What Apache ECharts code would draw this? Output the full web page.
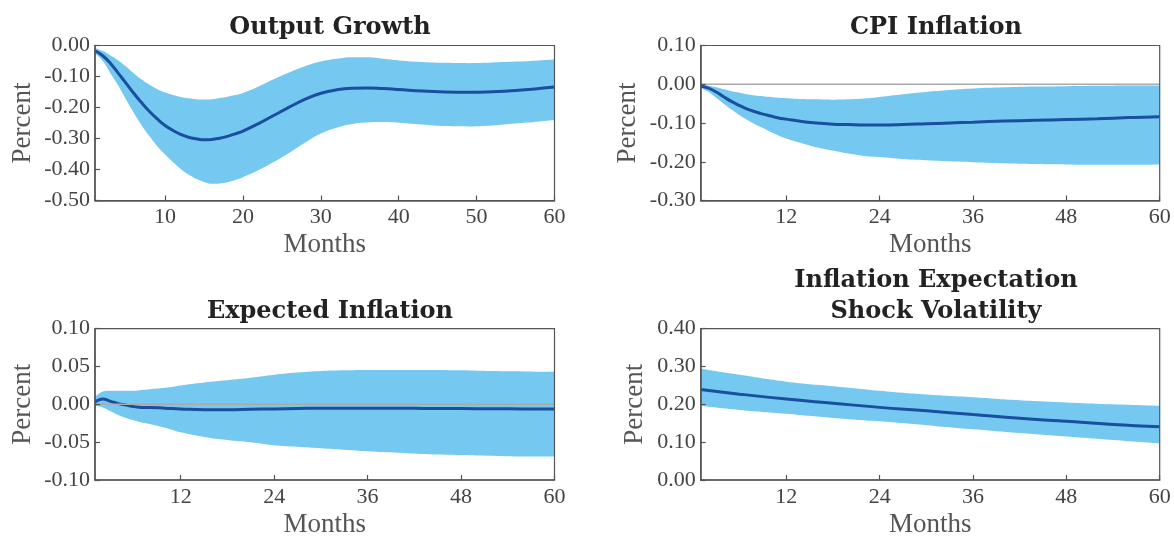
<!DOCTYPE html>
<html>
<head>
<meta charset="utf-8">
<script src="https://cdn.jsdelivr.net/npm/echarts@6/dist/echarts.min.js"></script>
<style>
html,body{margin:0;padding:0;background:#fff;}
#chart{width:1174px;height:539px;}
</style>
</head>
<body>
<div id="chart"></div>
<script>
// ---------- DATA ----------
const titles = ['Output Growth', 'CPI Inflation', 'Expected Inflation', 'Inflation Expectation\nShock Volatility'];
const xTicksA = [10, 20, 30, 40, 50, 60];
const xTicksB = [12, 24, 36, 48, 60];

// Output Growth
const months1 = [1,2,3,4,5,6,7,8,9,10,11,12,13,14,15,16,17,18,19,20,22,24,26,28,30,32,34,36,38,40,43,46,49,52,55,58,60];
const mean1  = [-0.017,-0.033,-0.058,-0.090,-0.122,-0.155,-0.185,-0.213,-0.237,-0.258,-0.274,-0.287,-0.296,-0.301,-0.304,-0.303,-0.299,-0.293,-0.285,-0.276,-0.252,-0.225,-0.198,-0.173,-0.154,-0.143,-0.138,-0.137,-0.139,-0.142,-0.147,-0.150,-0.151,-0.149,-0.145,-0.139,-0.134];
const upper1 = [-0.008,-0.018,-0.032,-0.048,-0.068,-0.090,-0.110,-0.127,-0.141,-0.152,-0.160,-0.166,-0.170,-0.173,-0.174,-0.173,-0.169,-0.165,-0.160,-0.153,-0.132,-0.108,-0.086,-0.067,-0.052,-0.043,-0.038,-0.038,-0.043,-0.048,-0.053,-0.056,-0.057,-0.055,-0.052,-0.048,-0.045];
const lower1 = [-0.025,-0.050,-0.090,-0.130,-0.175,-0.218,-0.258,-0.293,-0.325,-0.352,-0.376,-0.398,-0.416,-0.430,-0.440,-0.446,-0.445,-0.441,-0.434,-0.425,-0.402,-0.375,-0.345,-0.313,-0.284,-0.265,-0.253,-0.248,-0.247,-0.249,-0.255,-0.260,-0.261,-0.258,-0.252,-0.245,-0.240];

// CPI Inflation
const months2 = [1,2,3,4,5,6,7,8,9,10,11,12,14,16,18,20,22,24,27,30,33,36,40,44,48,52,56,60];
const mean2  = [-0.005,-0.010,-0.020,-0.033,-0.045,-0.055,-0.064,-0.071,-0.077,-0.082,-0.087,-0.090,-0.096,-0.100,-0.103,-0.104,-0.105,-0.105,-0.104,-0.102,-0.100,-0.098,-0.095,-0.093,-0.091,-0.089,-0.086,-0.084];
const upper2 = [-0.002,-0.004,-0.008,-0.013,-0.018,-0.022,-0.026,-0.029,-0.031,-0.033,-0.035,-0.036,-0.038,-0.039,-0.040,-0.039,-0.037,-0.033,-0.026,-0.020,-0.015,-0.011,-0.008,-0.006,-0.005,-0.004,-0.003,-0.003];
const lower2 = [-0.009,-0.020,-0.035,-0.051,-0.066,-0.080,-0.092,-0.103,-0.113,-0.123,-0.132,-0.140,-0.152,-0.163,-0.171,-0.179,-0.185,-0.188,-0.193,-0.196,-0.199,-0.201,-0.204,-0.206,-0.207,-0.208,-0.208,-0.207];

// Expected Inflation
const months3 = [1,1.5,2,3,4,5,6,7,8,10,12,15,18,21,24,27,30,33,36,40,44,48,52,56,60];
const mean3  = [0.003,0.006,0.007,0.004,0.001,-0.001,-0.003,-0.004,-0.004,-0.005,-0.006,-0.007,-0.007,-0.0065,-0.006,-0.0055,-0.005,-0.005,-0.005,-0.005,-0.0055,-0.0056,-0.0058,-0.006,-0.006];
const upper3 = [0.010,0.014,0.017,0.018,0.018,0.018,0.018,0.019,0.020,0.022,0.025,0.029,0.032,0.035,0.039,0.042,0.044,0.045,0.0455,0.0455,0.0455,0.045,0.044,0.0435,0.043];
const lower3 = [-0.002,-0.003,-0.004,-0.009,-0.014,-0.018,-0.021,-0.024,-0.026,-0.031,-0.037,-0.043,-0.047,-0.050,-0.054,-0.056,-0.058,-0.060,-0.062,-0.064,-0.066,-0.067,-0.068,-0.069,-0.069];

// Inflation Expectation Shock Volatility
const months4 = [1,6,12,18,24,30,36,42,48,54,60];
const mean4  = [0.239,0.227,0.214,0.203,0.192,0.183,0.173,0.163,0.155,0.147,0.141];
const upper4 = [0.294,0.278,0.260,0.248,0.236,0.226,0.219,0.211,0.205,0.200,0.196];
const lower4 = [0.196,0.185,0.175,0.164,0.155,0.145,0.134,0.124,0.115,0.106,0.097];

const yMins = [-0.5, -0.3, -0.1, 0];
const yMaxs = [0, 0.1, 0.1, 0.4];
const yIntervals = [0.1, 0.1, 0.05, 0.1];
const xMin = 1, xMax = 60;

// ---------- LAYOUT ----------
const grids = [
  {left: 95, top: 45.5, width: 459.5, height: 155},
  {left: 700.7, top: 45.5, width: 459, height: 155},
  {left: 95, top: 328.7, width: 459.5, height: 155.3},
  {left: 700.7, top: 328.7, width: 459, height: 155.3}
];
const titlePos = [
  {x: 325, y: 7}, {x: 931, y: 7}, {x: 325, y: 291}, {x: 931, y: 260}
];
const percentGap = [59, 59, 59, 52];
const panels = [
  {m: months1, mean: mean1, up: upper1, lo: lower1, ticks: xTicksA, zero: false},
  {m: months2, mean: mean2, up: upper2, lo: lower2, ticks: xTicksB, zero: true},
  {m: months3, mean: mean3, up: upper3, lo: lower3, ticks: xTicksB, zero: true},
  {m: months4, mean: mean4, up: upper4, lo: lower4, ticks: xTicksB, zero: false}
];

const SERIF = 'Liberation Serif';
const AX = '#555';
const BAND = '#75C8F0';
const LINE = '#1A4E9E';
const SMOOTH = 0.45;

const option = {
  animation: false,
  backgroundColor: '#fff',
  title: titles.map((t, i) => ({
    text: t,
    left: titlePos[i].x,
    top: titlePos[i].y,
    textAlign: 'center',
    textStyle: {fontFamily: 'DejaVu Serif', fontWeight: 'bold', fontSize: 24, color: '#222', lineHeight: 31}
  })),
  grid: grids.map(g => Object.assign({show: true, z: 10, borderColor: AX, borderWidth: 1.2, backgroundColor: 'transparent'}, g)),
  xAxis: panels.map((p, i) => ({
    type: 'value', gridIndex: i, min: xMin, max: xMax, z: 10,
    name: 'Months', nameLocation: 'middle', nameGap: 31,
    nameTextStyle: {fontFamily: SERIF, fontSize: 27, color: AX},
    axisLine: {show: true, onZero: false, lineStyle: {color: AX, width: 1.5}},
    axisTick: {show: true, inside: true, length: 5, customValues: p.ticks, lineStyle: {color: AX, width: 1.2}},
    axisLabel: {customValues: p.ticks, margin: 6, fontFamily: SERIF, fontSize: 22, color: '#444'},
    splitLine: {show: false}
  })),
  yAxis: panels.map((p, i) => ({
    type: 'value', gridIndex: i, min: yMins[i], max: yMaxs[i], interval: yIntervals[i], z: 10,
    name: 'Percent', nameLocation: 'middle', nameGap: percentGap[i],
    nameTextStyle: {fontFamily: SERIF, fontSize: 27, color: AX},
    axisLine: {show: true, onZero: false, lineStyle: {color: AX, width: 1.5}},
    axisTick: {show: true, inside: true, length: 5, lineStyle: {color: AX, width: 1.2}},
    axisLabel: {margin: 5, fontFamily: SERIF, fontSize: 22, color: '#444', formatter: v => v.toFixed(2)},
    splitLine: {show: false}
  })),
  series: []
};

panels.forEach((p, i) => {
  const up = p.m.map((m, k) => [m, p.up[k]]);
  const lo = p.m.map((m, k) => [m, p.lo[k]]);
  const mean = p.m.map((m, k) => [m, p.mean[k]]);
  // upper bound filled down to the axis floor in band colour
  option.series.push({
    type: 'line', xAxisIndex: i, yAxisIndex: i, data: up,
    symbol: 'none', smooth: SMOOTH, silent: true, lineStyle: {width: 0, opacity: 0},
    areaStyle: {color: BAND, opacity: 1, origin: 'start'}, z: 2
  });
  // lower bound masks everything below it in white
  option.series.push({
    type: 'line', xAxisIndex: i, yAxisIndex: i, data: lo,
    symbol: 'none', smooth: SMOOTH, silent: true, lineStyle: {width: 0, opacity: 0},
    areaStyle: {color: '#ffffff', opacity: 1, origin: 'start'}, z: 3
  });
  option.series.push({
    type: 'line', xAxisIndex: i, yAxisIndex: i, data: mean,
    symbol: 'none', smooth: SMOOTH, silent: true, lineStyle: {color: LINE, width: 3}, z: 4
  });
  if (p.zero) {
    option.series.push({
      type: 'line', xAxisIndex: i, yAxisIndex: i, data: [[xMin, 0], [xMax, 0]],
      symbol: 'none', silent: true, lineStyle: {color: '#aaa', width: 1.5}, z: 5
    });
  }
});

const chart = echarts.init(document.getElementById('chart'), null, {renderer: 'canvas'});
chart.setOption(option);
</script>
</body>
</html>
